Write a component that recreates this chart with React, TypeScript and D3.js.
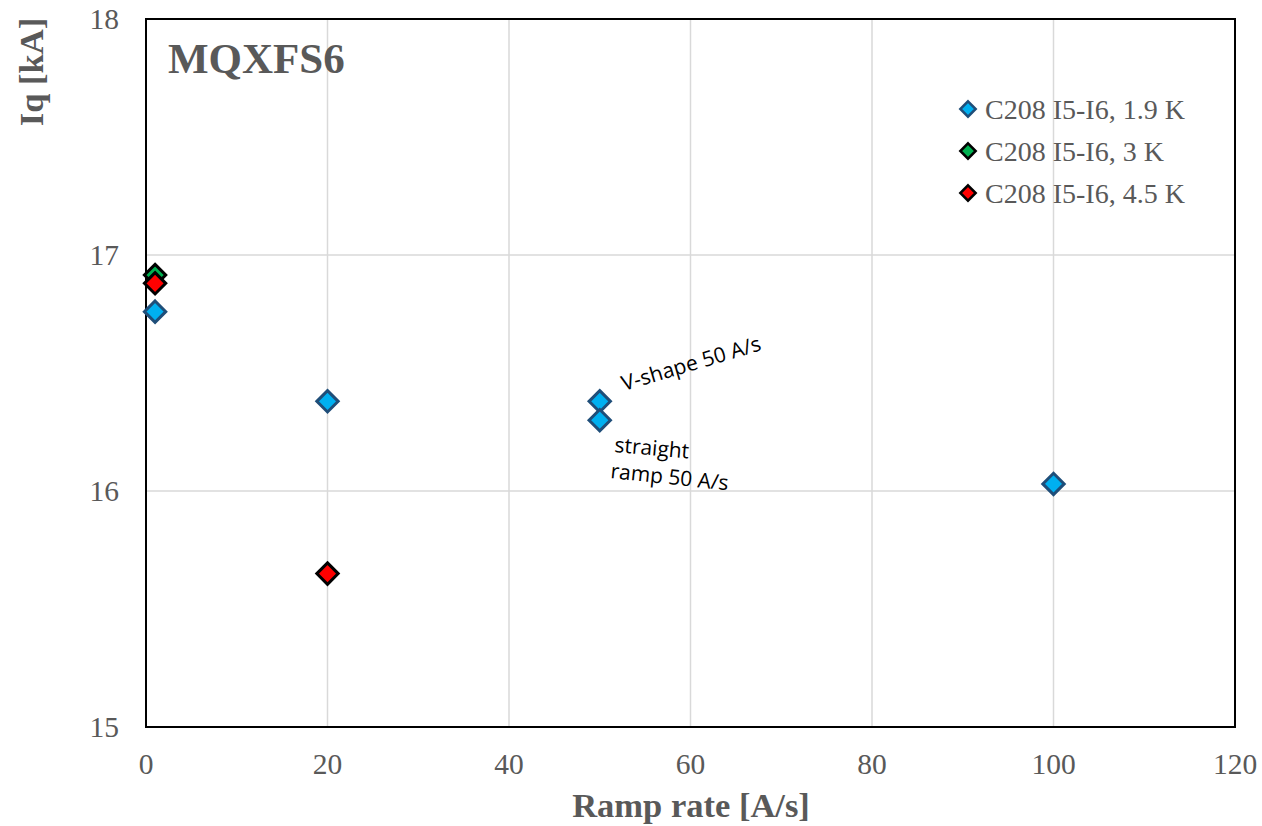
import React from "react";
import * as d3 from "d3";

const seriesNames = ["C208 I5-I6, 1.9 K", "C208 I5-I6, 3 K", "C208 I5-I6, 4.5 K"];
const blueX = [1, 20, 50, 50, 100];
const blueY = [16.76, 16.38, 16.38, 16.30, 16.03];
const greenX = [1];
const greenY = [16.915];
const redX = [1, 20];
const redY = [16.88, 15.65];
const xTicks = [0, 20, 40, 60, 80, 100, 120];
const yTicks = [15, 16, 17, 18];

const fills = ["#00B0F0", "#00B050", "#FF0000"];
const strokes = ["#1F4E79", "#000000", "#000000"];

export default function App() {
  const W = 1262, H = 826;
  const L = 146, R = 1235, T = 19, B = 727;
  const x = d3.scaleLinear().domain([0, 120]).range([L, R]);
  const y = d3.scaleLinear().domain([15, 18]).range([B, T]);
  const sym = d3.symbol().type(d3.symbolDiamond2).size(290)();
  const legSym = d3.symbol().type(d3.symbolDiamond2).size(150)();
  const series = [
    { xs: blueX, ys: blueY },
    { xs: greenX, ys: greenY },
    { xs: redX, ys: redY },
  ];
  const grey = "#595959";
  const serif = "'Liberation Serif', 'Times New Roman', serif";
  const sans = "'Open Sans', 'Liberation Sans', sans-serif";
  return (
    <svg width={W} height={H} style={{ position: "absolute", left: 0, top: 0, background: "#fff" }}>
      <rect x={0} y={0} width={W} height={H} fill="#fff" />
      {xTicks.filter((t) => t > 0 && t < 120).map((t) => (
        <line key={"gx" + t} x1={x(t)} x2={x(t)} y1={T} y2={B} stroke="#d9d9d9" strokeWidth={1.5} />
      ))}
      {yTicks.filter((t) => t > 15 && t < 18).map((t) => (
        <line key={"gy" + t} x1={L} x2={R} y1={y(t)} y2={y(t)} stroke="#d9d9d9" strokeWidth={1.5} />
      ))}
      <rect x={L} y={T} width={R - L} height={B - T} fill="none" stroke="#000" strokeWidth={2} />
      {xTicks.map((t) => (
        <text key={"xt" + t} x={x(t)} y={774} textAnchor="middle" fontFamily={serif} fontSize={29.5} fill={grey}>{t}</text>
      ))}
      {yTicks.map((t) => (
        <text key={"yt" + t} x={119} y={y(t) + 10} textAnchor="end" fontFamily={serif} fontSize={29.5} fill={grey}>{t}</text>
      ))}
      <text x={691} y={817} textAnchor="middle" fontFamily={serif} fontSize={34.5} fontWeight="bold" fill={grey}>Ramp rate [A/s]</text>
      <text transform={`translate(43,72) rotate(-90)`} textAnchor="middle" fontFamily={serif} fontSize={34.5} fontWeight="bold" fill={grey}>Iq [kA]</text>
      <text x={168} y={73} fontFamily={serif} fontSize={43} fontWeight="bold" fill={grey}>MQXFS6</text>
      {series.map((s, si) =>
        s.xs.map((xv, i) => (
          <path key={`p${si}-${i}`} d={sym} transform={`translate(${x(xv)},${y(s.ys[i])})`} fill={fills[si]} stroke={strokes[si]} strokeWidth={3} />
        ))
      )}
      {seriesNames.map((n, i) => (
        <g key={"lg" + i} transform={`translate(968,${109 + i * 42})`}>
          <path d={legSym} fill={fills[i]} stroke={strokes[i]} strokeWidth={2.5} />
          <text x={17} y={10} fontFamily={serif} fontSize={28} fill={grey}>{n}</text>
        </g>
      ))}
      <text transform="translate(624,391) rotate(-16.5)" fontFamily={sans} fontSize={21} fill="#000">V-shape 50 A/s</text>
      <text transform="translate(614,452) rotate(5)" fontFamily={sans} fontSize={21} fill="#000">straight</text>
      <text transform="translate(610,478) rotate(6)" fontFamily={sans} fontSize={21} fill="#000">ramp 50 A/s</text>
    </svg>
  );
}
